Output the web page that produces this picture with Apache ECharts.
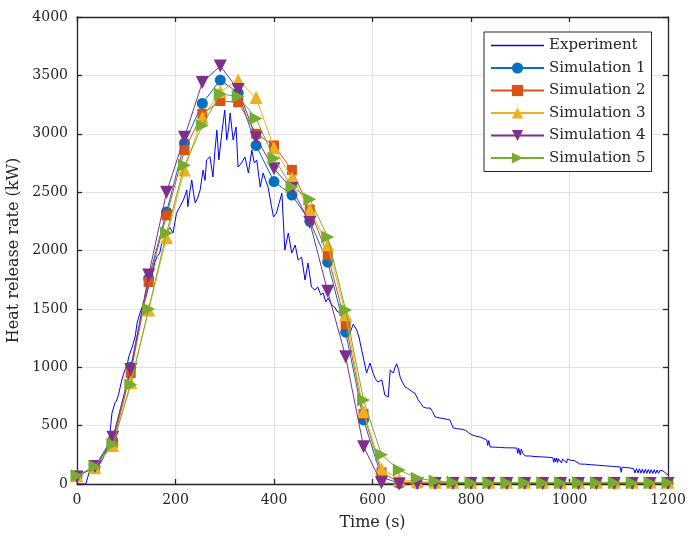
<!DOCTYPE html>
<html>
<head>
<meta charset="utf-8">
<script src="https://cdn.jsdelivr.net/npm/echarts@6/dist/echarts.min.js"></script>
<style>
html,body{margin:0;padding:0;background:#fff;}
#c{width:687px;height:536px;}
</style>
</head>
<body>
<div id="c"></div>
<script>
// ---------- data ----------
var seriesNames = ['Experiment','Simulation 1','Simulation 2','Simulation 3','Simulation 4','Simulation 5'];
var xTicks = [0,200,400,600,800,1000,1200];
var yTicks = [0,500,1000,1500,2000,2500,3000,3500,4000];

var experiment = [
[0,0],[10,0],[18,0],[22,60],[24,94],[30,120],[36,140],[41,137],[47,180],[52,210],[57,265],[63,351],[67,437],[71,608],[77,694],[81,720],[85,779],[91,891],[97,976],[101,1000],[105,1088],[112,1173],[118,1259],[122,1379],[128,1465],[135,1550],[140,1600],[146,1700],[152,1776],[158,1900],[163,1950],[168,1978],[173,2080],[178,2050],[182,2118],[188,2200],[195,2150],[202,2320],[209,2375],[216,2432],[223,2518],[225,2375],[229,2500],[233,2604],[237,2480],[240,2407],[245,2450],[250,2518],[256,2689],[260,2600],[263,2775],[270,2803],[276,2630],[280,2850],[284,3032],[288,2775],[294,3006],[300,3203],[304,2946],[308,3050],[311,3178],[317,2946],[323,3058],[327,2715],[334,2749],[341,2801],[348,2664],[355,2860],[360,2750],[365,2775],[372,2544],[378,2664],[383,2600],[388,2544],[395,2375],[399,2287],[405,2320],[410,2400],[416,2490],[422,2004],[429,2150],[436,1978],[443,2047],[449,1918],[456,1944],[463,1747],[469,1893],[476,1687],[483,1662],[489,1687],[495,1620],[500,1636],[505,1560],[510,1593],[517,1533],[523,1516],[528,1480],[534,1465],[539,1420],[544,1405],[549,1350],[554,1293],[561,1370],[568,1319],[573,1250],[578,1148],[583,1050],[588,951],[592,1000],[595,1036],[601,951],[606,900],[611,874],[619,891],[625,762],[632,745],[636,976],[642,951],[646,1000],[649,1030],[653,980],[656,917],[661,870],[666,831],[671,820],[676,805],[681,790],[686,779],[693,719],[698,690],[703,660],[710,650],[717,651],[722,620],[727,574],[732,570],[737,565],[745,560],[750,555],[757,548],[762,500],[764,480],[770,475],[780,470],[788,462],[795,440],[802,420],[810,410],[820,400],[832,377],[834,330],[836,372],[839,317],[850,315],[860,313],[870,310],[880,310],[893,308],[895,262],[897,305],[900,248],[902,300],[905,265],[910,240],[920,240],[930,235],[945,232],[960,228],[966,225],[968,185],[970,222],[972,190],[974,223],[976,185],[978,215],[980,205],[984,180],[986,215],[990,212],[994,180],[996,214],[1001,205],[1005,190],[1010,200],[1021,171],[1030,170],[1045,165],[1060,160],[1075,155],[1090,150],[1103,146],[1105,100],[1107,145],[1110,140],[1123,137],[1130,132],[1133,95],[1136,132],[1139,95],[1142,130],[1145,93],[1148,128],[1151,92],[1154,127],[1157,92],[1160,125],[1163,90],[1166,124],[1169,90],[1172,122],[1175,90],[1178,120],[1181,92],[1184,118],[1187,118],[1190,111],[1195,95],[1200,77]
];

var simTimes = [0,36.4,72.7,109.1,145.5,181.8,218.2,254.5,290.9,327.3,363.6,400,436.4,472.7,509.1,545.5,581.8,618.2,654.5,690.9,727.3,763.6,800,836.4,872.7,909.1,945.5,981.8,1018.2,1054.5,1090.9,1127.3,1163.6,1200];
var sim1 = [70,150,370,1000,1760,2330,2920,3260,3460,3350,2900,2590,2475,2250,1900,1300,550,60,5,5,5,5,5,5,5,5,5,5,5,5,5,5,5,5];
var sim2 = [70,140,350,950,1730,2300,2860,3170,3280,3270,3000,2900,2690,2350,1960,1370,600,100,15,10,10,10,10,10,10,10,10,10,10,10,10,10,10,10];
var sim3 = [70,140,330,870,1490,2110,2690,3140,3360,3460,3310,2880,2620,2350,2050,1450,620,130,40,20,15,15,15,15,15,15,15,15,15,15,15,15,15,15];
var sim4 = [60,150,400,980,1790,2500,2970,3440,3580,3380,2965,2700,2530,2240,1650,1090,320,10,0,5,5,5,5,5,5,5,5,5,5,5,5,5,5,5];
var sim5 = [70,150,340,850,1500,2150,2730,3070,3340,3320,3130,2790,2545,2440,2115,1490,720,250,120,50,25,15,10,10,10,10,10,10,10,10,10,10,10,10];

// ---------- chart ----------
var colors = ['#0000FF','#0072BD','#D95319','#EDB120','#7E2F8E','#77AC30'];
var symbols = [['none',0,0],['circle',11,0],['rect',10,0],['triangle',13,0],['triangle',13,180],['triangle',13,-90]];
var FONT = 'DejaVu Serif';
var sims = [sim1,sim2,sim3,sim4,sim5];

function pair(xs, ys){ return xs.map(function(x,i){ return [x, ys[i]]; }); }

var series = [{
  name: seriesNames[0], type: 'line', data: experiment, symbol: 'none', showSymbol: false,
  lineStyle: {color: colors[0], width: 1}, itemStyle: {color: colors[0]},
  animation: false, z: 2
}];
sims.forEach(function(s, k){
  var sym = symbols[k+1];
  series.push({
    name: seriesNames[k+1], type: 'line', data: pair(simTimes, s),
    symbol: sym[0], symbolSize: sym[1], symbolRotate: sym[2], showAllSymbol: true,
    lineStyle: {color: colors[k+1], width: 1}, itemStyle: {color: colors[k+1]},
    animation: false, z: 3 + k
  });
});

var legendData = seriesNames.map(function(n, i){
  return i === 0 ? {name: n, itemStyle: {opacity: 0}, lineStyle: {color: colors[0], width: 1.5, opacity: 1}} : {name: n};
});

var axisLineStyle = {color: '#262626', width: 1.3};
function plainNum(v){ return String(v); }
var chart = echarts.init(document.getElementById('c'), null, {renderer: 'canvas'});
chart.setOption({
  animation: false,
  backgroundColor: '#fff',
  grid: {left: 77, right: 19, top: 17, bottom: 52, containLabel: false, outerBoundsMode: 'none'},
  legend: {
    orient: 'vertical', left: 484, top: 32,
    data: legendData,
    itemWidth: 53, itemHeight: 14, itemGap: 7.5,
    padding: [6, 6, 6, 6],
    borderColor: '#262626', borderWidth: 1, backgroundColor: '#fff',
    textStyle: {fontFamily: FONT, fontSize: 15, color: '#262626', lineHeight: 14},
    z: 20
  },
  xAxis: [{
    type: 'value', min: 0, max: 1200, interval: 200,
    name: 'Time (s)', nameLocation: 'middle', nameGap: 31,
    nameTextStyle: {fontFamily: FONT, fontSize: 16, color: '#262626'},
    axisLine: {show: true, onZero: false, lineStyle: axisLineStyle},
    axisTick: {show: true, inside: true, length: 5, lineStyle: axisLineStyle},
    axisLabel: {fontFamily: FONT, fontSize: 14, color: '#262626', margin: 9, formatter: plainNum},
    splitLine: {show: true, lineStyle: {color: '#e3e3e3', width: 1}}
  },{
    type: 'value', min: 0, max: 1200, interval: 200, position: 'top',
    axisLine: {show: true, onZero: false, lineStyle: axisLineStyle},
    axisTick: {show: true, inside: true, length: 5, lineStyle: axisLineStyle},
    axisLabel: {show: false}, splitLine: {show: false}
  }],
  yAxis: [{
    type: 'value', min: 0, max: 4000, interval: 500,
    name: 'Heat release rate (kW)', nameLocation: 'middle', nameGap: 52,
    nameTextStyle: {fontFamily: FONT, fontSize: 16, color: '#262626'},
    axisLine: {show: true, onZero: false, lineStyle: axisLineStyle},
    axisTick: {show: true, inside: true, length: 5, lineStyle: axisLineStyle},
    axisLabel: {fontFamily: FONT, fontSize: 14, color: '#262626', margin: 9, formatter: plainNum},
    splitLine: {show: true, lineStyle: {color: '#e3e3e3', width: 1}}
  },{
    type: 'value', min: 0, max: 4000, interval: 500, position: 'right',
    axisLine: {show: true, onZero: false, lineStyle: axisLineStyle},
    axisTick: {show: true, inside: true, length: 5, lineStyle: axisLineStyle},
    axisLabel: {show: false}, splitLine: {show: false}
  }],
  series: series
});
</script>
</body>
</html>
